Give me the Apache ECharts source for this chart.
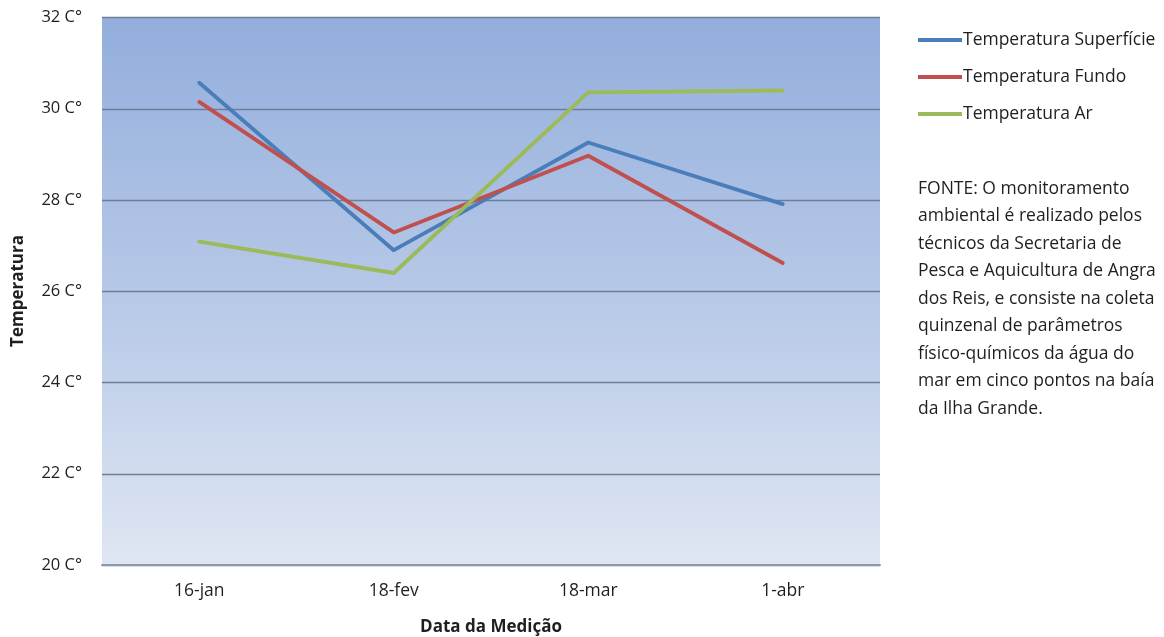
<!DOCTYPE html>
<html>
<head>
<meta charset="utf-8">
<script src="https://cdn.jsdelivr.net/npm/echarts@6/dist/echarts.min.js"></script>
<style>
  html, body { margin: 0; padding: 0; background: #ffffff; }
  #chart { width: 1164px; height: 637px; }
</style>
</head>
<body>
<div id="chart"></div>
<script>
// Measurement dates
const dates = ['16-jan', '18-fev', '18-mar', '1-abr'];

// Temperatures (°C) per series
const tempSuperficie = [30.57, 26.90, 29.26, 27.91];
const tempFundo      = [30.15, 27.29, 28.97, 26.62];
const tempAr         = [27.09, 26.40, 30.36, 30.40];

const seriesNames = ['Temperatura Superfície', 'Temperatura Fundo', 'Temperatura Ar'];

// Y axis range and tick step
const yMin = 20;
const yMax = 32;
const yStep = 2;

const sourceNote = [
  'FONTE: O monitoramento',
  'ambiental é realizado pelos',
  'técnicos da Secretaria de',
  'Pesca e Aquicultura de Angra',
  'dos Reis, e consiste na coleta',
  'quinzenal de parâmetros',
  'físico-químicos da água do',
  'mar em cinco pontos na baía',
  'da Ilha Grande.'
];

const FONT = '"Open Sans", "Noto Sans", sans-serif';
const TEXT = '#1f1f1f';

const chart = echarts.init(document.getElementById('chart'), null, { renderer: 'canvas' });

const lineSeries = (name, data, color) => ({
  name,
  type: 'line',
  data,
  symbol: 'none',
  smooth: false,
  lineStyle: { color, width: 3.8, cap: 'round', join: 'round' },
  itemStyle: { color },
  z: 3
});

chart.setOption({
  animation: false,
  textStyle: { fontFamily: FONT },
  grid: {
    left: 102, right: 284, top: 17.5, bottom: 72,
    show: true,
    borderWidth: 0,
    backgroundColor: new echarts.graphic.LinearGradient(0, 0, 0, 1, [
      { offset: 0, color: '#93aedc' },
      { offset: 0.5, color: '#b6c8e7' },
      { offset: 1, color: '#dfe6f3' }
    ])
  },
  legend: {
    orient: 'vertical',
    left: 918,
    top: 30,
    padding: 0,
    itemWidth: 44,
    itemHeight: 4,
    itemGap: 17,
    icon: 'rect',
    data: seriesNames,
    textStyle: { fontFamily: FONT, fontSize: 17.5, color: TEXT, lineHeight: 20, padding: [0, 0, 0, -4] }
  },
  xAxis: {
    type: 'category',
    data: dates,
    boundaryGap: true,
    axisLine: { show: true, lineStyle: { color: '#8e98aa', width: 2 } },
    axisTick: { show: false },
    axisLabel: { fontFamily: FONT, fontSize: 17.5, color: TEXT, margin: 17 },
    splitLine: { show: false }
  },
  yAxis: {
    type: 'value',
    min: yMin,
    max: yMax,
    interval: yStep,
    axisLine: { show: false },
    axisTick: { show: false },
    axisLabel: {
      fontFamily: FONT, fontSize: 16.5, color: TEXT, margin: 20,
      formatter: v => v + ' C°'
    },
    splitLine: { show: true, lineStyle: { color: '#6f7e98', width: 1.3 } }
  },
  series: [
    lineSeries(seriesNames[0], tempSuperficie, '#4a7ebb'),
    lineSeries(seriesNames[1], tempFundo, '#c0504d'),
    lineSeries(seriesNames[2], tempAr, '#9bbb59')
  ],
  graphic: [
    {
      type: 'text',
      style: {
        text: 'Temperatura',
        font: 'bold 17px ' + FONT,
        fill: TEXT,
        textAlign: 'center',
        textVerticalAlign: 'middle'
      },
      x: 18,
      y: 291,
      rotation: Math.PI / 2
    },
    {
      type: 'text',
      style: {
        text: 'Data da Medição',
        font: 'bold 17px ' + FONT,
        fill: TEXT,
        textAlign: 'center',
        textVerticalAlign: 'middle'
      },
      x: 491,
      y: 627
    },
    {
      type: 'text',
      style: {
        text: sourceNote.join('\n'),
        font: '17.5px ' + FONT,
        fill: TEXT,
        lineHeight: 27.5,
        textAlign: 'left',
        textVerticalAlign: 'top'
      },
      x: 918,
      y: 175
    }
  ]
});
</script>
</body>
</html>
